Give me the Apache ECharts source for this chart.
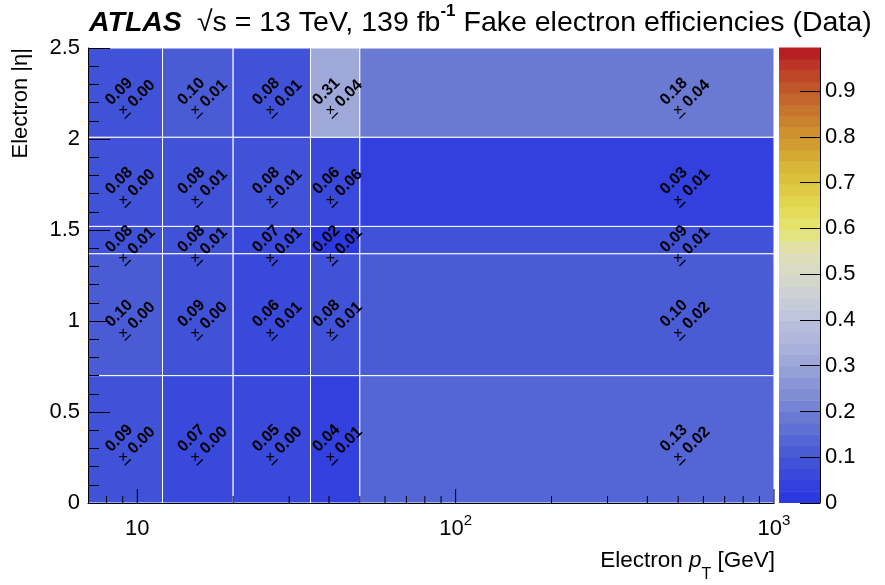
<!DOCTYPE html>
<html><head><meta charset="utf-8">
<script src="https://cdn.jsdelivr.net/npm/echarts@6/dist/echarts.min.js"></script>
<style>html,body{margin:0;padding:0;background:#fff}#c{width:885px;height:585px}</style>
</head><body><div id="c"></div>
<script>
// ---- data ----
const ptEdges = [7, 12, 20, 35, 50, 1000];          // GeV
const etaEdges = [0, 0.7, 1.37, 1.52, 2.01, 2.5];   // |eta|
// rows: eta bins (bottom -> top), columns: pT bins
const effValues = [
  [0.09, 0.07, 0.05, 0.04, 0.13],
  [0.10, 0.09, 0.06, 0.08, 0.10],
  [0.08, 0.08, 0.07, 0.02, 0.09],
  [0.08, 0.08, 0.08, 0.06, 0.03],
  [0.09, 0.10, 0.08, 0.31, 0.18]
];
const effErrors = [
  [0.00, 0.00, 0.00, 0.01, 0.02],
  [0.00, 0.00, 0.01, 0.01, 0.02],
  [0.01, 0.01, 0.01, 0.01, 0.01],
  [0.00, 0.01, 0.01, 0.06, 0.01],
  [0.00, 0.01, 0.01, 0.04, 0.04]
];
const xMajorTicks = [10, 100, 1000];
const xMinorTicks = [8, 9, 20, 30, 40, 50, 60, 70, 80, 90, 200, 300, 400, 500, 600, 700, 800, 900];
const zTicks = [0, 0.1, 0.2, 0.3, 0.4, 0.5, 0.6, 0.7, 0.8, 0.9];
const zMax = 0.994;
const nContours = 40;
const paletteStops = [
  [0.00, '#2a35e3'], [0.05, '#3444dc'], [0.10, '#4457d6'], [0.15, '#5a6bd4'],
  [0.20, '#7080d3'], [0.25, '#8592d6'], [0.30, '#9aa6d9'], [0.35, '#acb5dc'],
  [0.40, '#bcc2dd'], [0.45, '#cbcfd6'], [0.50, '#d8dac8'], [0.55, '#e0e0b2'],
  [0.60, '#e5e46e'], [0.65, '#e2d852'], [0.70, '#dcc53c'], [0.75, '#d6ae34'],
  [0.80, '#d0942e'], [0.85, '#c8782c'], [0.90, '#c25a2a'], [0.95, '#bc3a26'],
  [1.00, '#b41020']
];

// ---- helpers ----
function hex(c){return [parseInt(c.slice(1,3),16),parseInt(c.slice(3,5),16),parseInt(c.slice(5,7),16)];}
function palette(v){
  if (v <= paletteStops[0][0]) return paletteStops[0][1];
  for (let i=1;i<paletteStops.length;i++){
    if (v <= paletteStops[i][0]){
      const a=paletteStops[i-1], b=paletteStops[i];
      const t=(v-a[0])/(b[0]-a[0]); const ca=hex(a[1]), cb=hex(b[1]);
      return 'rgb('+ca.map((x,k)=>Math.round(x+(cb[k]-x)*t)).join(',')+')';
    }
  }
  return paletteStops[paletteStops.length-1][1];
}
const bandW = zMax / nContours;
function bandColor(i){ return palette((i+0.5)*bandW); }
function zColor(v){ let i=Math.floor(v/bandW); i=Math.max(0,Math.min(nContours-1,i)); return bandColor(i); }

const cellData = [];
for (let r=0;r<etaEdges.length-1;r++) for (let c=0;c<ptEdges.length-1;c++)
  cellData.push([ptEdges[c], ptEdges[c+1], etaEdges[r], etaEdges[r+1], effValues[r][c], effErrors[r][c]]);
const tickData = xMajorTicks.map(v=>[v,1]).concat(xMinorTicks.map(v=>[v,0]));
const bandData = [];
for (let i=0;i<nContours;i++) bandData.push([i*bandW, (i+1)*bandW, i]);

const FF = '"Liberation Sans", Arial, Helvetica, sans-serif';
const chart = echarts.init(document.getElementById('c'), null, {renderer:'canvas'});
chart.setOption({
  animation:false,
  backgroundColor:'#fff',
  textStyle:{fontFamily:FF, color:'#000'},
  title:{
    left:89, top:3, padding:0,
    text:'{a|ATLAS}{g| }{b|√s = 13 TeV, 139 fb}{sup|-1}{b| Fake electron efficiencies (Data)}',
    textStyle:{rich:{
      a:{fontFamily:FF, fontSize:28.5, fontWeight:'bold', fontStyle:'italic', color:'#000', lineHeight:40},
      g:{fontSize:28, lineHeight:40, width:15},
      b:{fontFamily:FF, fontSize:28.5, fontWeight:'normal', color:'#000', lineHeight:40},
      sup:{fontFamily:FF, fontSize:17, color:'#000', lineHeight:17, padding:[0,0,23,0]}
    }}
  },
  grid:[
    {left:88, top:48, width:686, height:455},
    {left:779, top:48, width:41, height:455}
  ],
  xAxis:[
    {type:'log', logBase:10, min:7, max:1000, gridIndex:0, z:10,
     axisLine:{lineStyle:{color:'#000', width:1}}, axisTick:{show:false}, splitLine:{show:false},
     axisLabel:{margin:10, color:'#000',
       formatter:function(v){const l=Math.log10(v), e=Math.round(l); if(Math.abs(l-e)>1e-6) return ''; return e===1?'{n|10}':'{n|10}{sup|'+e+'}';},
       rich:{n:{fontFamily:FF, fontSize:22, lineHeight:32, color:'#000'}, sup:{fontFamily:FF, fontSize:15, lineHeight:15, padding:[0,0,17,0], color:'#000'}}}},
    {type:'value', gridIndex:1, min:0, max:1, show:false}
  ],
  yAxis:[
    {type:'value', min:0, max:2.5, interval:0.5, gridIndex:0, z:10,
     axisLine:{show:true, lineStyle:{color:'#000', width:1}},
     axisTick:{show:true, inside:true, length:22, lineStyle:{color:'#000'}},
     minorTick:{show:true, splitNumber:5, length:11, lineStyle:{color:'#000'}},
     splitLine:{show:false},
     axisLabel:{margin:8, fontSize:22, color:'#000', fontFamily:FF}},
    {type:'value', gridIndex:1, min:0, max:zMax, interval:0.1, position:'right', z:10,
     axisLine:{show:true, onZero:false, lineStyle:{color:'#000', width:1}},
     axisTick:{show:true, inside:true, length:20, lineStyle:{color:'#000'}, customValues:zTicks},
     splitLine:{show:false},
     axisLabel:{margin:5, fontSize:22, color:'#000', fontFamily:FF, customValues:zTicks,
       formatter:function(v){return String(Math.round(v*10)/10);}}}
  ],
  graphic:[
    {type:'text', x:21, y:48, rotation:Math.PI/2,
     style:{text:'Electron |η|', font:'22px '+FF, fill:'#000', align:'right', verticalAlign:'middle'}},
    {type:'text', x:775, y:561,
     style:{text:'{n|Electron }{i|p}{s|T}{n| [GeV]}', align:'right', verticalAlign:'middle',
       rich:{n:{fontFamily:FF, fontSize:22.5, lineHeight:44, fill:'#000'},
             i:{fontFamily:FF, fontSize:22.5, fontStyle:'italic', lineHeight:44, fill:'#000'},
             s:{fontFamily:FF, fontSize:16, lineHeight:16, padding:[28,0,0,0], fill:'#000'}}}}
  ],
  series:[
    {type:'custom', name:'cells', coordinateSystem:'cartesian2d', xAxisIndex:0, yAxisIndex:0, z:2,
     data:cellData, encode:{x:[0,1], y:[2,3]},
     renderItem:function(params, api){
       const x0=api.value(0), x1=api.value(1), y0=api.value(2), y1=api.value(3), v=api.value(4), e=api.value(5);
       const pA=api.coord([x0,y1]), pB=api.coord([x1,y0]);
       const c=api.coord([(x0+x1)/2,(y0+y1)/2]);
       const font='bold 16px '+FF;
       return {type:'group', children:[
         {type:'rect', shape:{x:pA[0], y:pA[1], width:pB[0]-pA[0], height:pB[1]-pA[1]},
          style:{fill:zColor(v), stroke:'#ffffff', lineWidth:1}, z2:0},
         {type:'text', x:c[0]-11, y:c[1]-1, rotation:Math.PI/4, z2:10,
          style:{text:v.toFixed(2), font:font, fill:'#000', align:'center', verticalAlign:'middle'}},
         {type:'text', x:c[0]+11.5, y:c[1]+1, rotation:Math.PI/4, z2:10,
          style:{text:e.toFixed(2), font:font, fill:'#000', align:'center', verticalAlign:'middle'}},
         {type:'text', x:c[0]-7, y:c[1]+18.5, z2:10,
          style:{text:'+', font:'16px '+FF, fill:'#000', align:'center', verticalAlign:'middle'}},
         {type:'line', z2:10, shape:{x1:c[0]-5.5, y1:c[1]+26, x2:c[0]+0.5, y2:c[1]+20}, style:{stroke:'#000', lineWidth:1.3}}
       ]};
     }},
    {type:'custom', name:'xticks', coordinateSystem:'cartesian2d', xAxisIndex:0, yAxisIndex:0, z:5,
     data:tickData, encode:{x:0},
     renderItem:function(params, api){
       const p=api.coord([api.value(0),0]); const len=api.value(1)?14:7;
       return {type:'line', shape:{x1:p[0], y1:p[1], x2:p[0], y2:p[1]-len}, style:{stroke:'#000', lineWidth:1}};
     }},
    {type:'custom', name:'colorbar', coordinateSystem:'cartesian2d', xAxisIndex:1, yAxisIndex:1, z:2,
     data:bandData, encode:{y:[0,1]},
     renderItem:function(params, api){
       const lo=api.value(0), hi=api.value(1), i=api.value(2);
       const pA=api.coord([0,hi]), pB=api.coord([1,lo]);
       return {type:'rect', shape:{x:pA[0], y:pA[1]-0.5, width:pB[0]-pA[0], height:pB[1]-pA[1]+0.5},
         style:{fill:bandColor(i)}};
     }}
  ]
});
</script>
</body></html>
